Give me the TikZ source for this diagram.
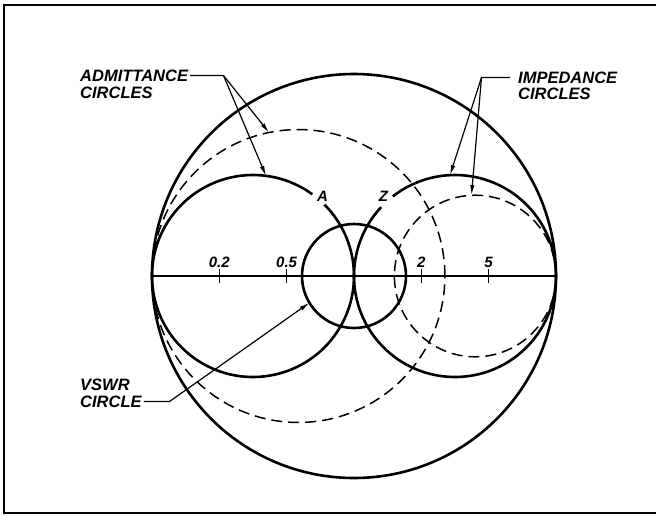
\documentclass[tikz,border=0pt]{standalone}
\usepackage{fontspec}
\setmainfont{Liberation Sans}
\usetikzlibrary{arrows.meta}

\begin{document}
\begin{tikzpicture}[x=1pt,y=1pt,
  smithline/.style={line width=2.6pt},
  dashline/.style={line width=1.5pt, dash pattern=on 11pt off 6pt},
  pointer/.style={line width=1.2pt, -{Latex[length=10pt,width=4.5pt]}},
  lettering/.style={font=\fontsize{16.5}{19}\selectfont\bfseries\itshape, inner xsep=2pt, inner ysep=0.5pt, anchor=west},
  scalenum/.style={font=\fontsize{15}{17}\selectfont\bfseries\itshape, inner sep=1pt}]
\def\radius{202}
\def\vswr{52}
\useasboundingbox (-354,-239) rectangle (302,276);
% frame
\draw[line width=1.8pt] (302,271) -- (-350,271) -- (-350,-237) -- (302,-237);
% chart
\draw[smithline] (0,0) circle (\radius);
\draw[smithline] (-\radius,0) -- (\radius,0);
\draw[smithline] (-\radius/2,0) ++(54:\radius/2) arc[start angle=54, end angle=405, radius=\radius/2];
\draw[smithline] (\radius/2,0) ++(137:\radius/2) arc[start angle=137, end angle=488, radius=\radius/2];
\draw[dashline] (0.6*\radius,0) circle (0.4*\radius);
\draw[dashline] (-0.275*\radius,0) circle (0.725*\radius);
\draw[smithline] (0,0) circle (\vswr);
\foreach \t/\val in {-2/0.2, -1/0.5, 1/2, 2/5} {
  \draw[line width=1.5pt] (\t*\radius/3,-7) -- (\t*\radius/3,7);
  \node[scalenum] (n\t) at (\t*\radius/3,14) {\val};
}
\node[scalenum] (admA) at (-31.5,79.8) {A};
\node[scalenum] (impZ) at (29.5,79.3) {Z};
% labels
\node[lettering] (adm) at (-276,200.5) {ADMITTANCE};
\node[lettering] (admb) at (-276,183) {CIRCLES};
\node[lettering] (imp) at (162,198.5) {IMPEDANCE};
\node[lettering] (impb) at (162,182) {CIRCLES};
\node[lettering] (vswr) at (-276,-108.5) {VSWR};
\node[lettering] (vswrb) at (-276,-125.5) {CIRCLE};
\coordinate (admfork) at (-130.5,200.5);
\coordinate (admtipA) at (-85,143.5);
\coordinate (admtipB) at (-88,100.2);
\coordinate (impfork) at (127.5,198.5);
\coordinate (imptipA) at (96,100.9);
\coordinate (imptipB) at (117.5,80.9);
\coordinate (vswrbend) at (-184.5,-125.5);
\coordinate (vswrtip) at (211:\vswr);
\draw[pointer] (adm.east) -- (admfork) -- (admtipB);
\draw[pointer] (admfork) -- (admtipA);
\draw[pointer, shorten <=6pt] (imp.west) -- (impfork) -- (imptipA);
\draw[pointer] (impfork) -- (imptipB);
\draw[pointer] (vswrb.east) -- (vswrbend) -- (vswrtip);
\end{tikzpicture}
\end{document}
